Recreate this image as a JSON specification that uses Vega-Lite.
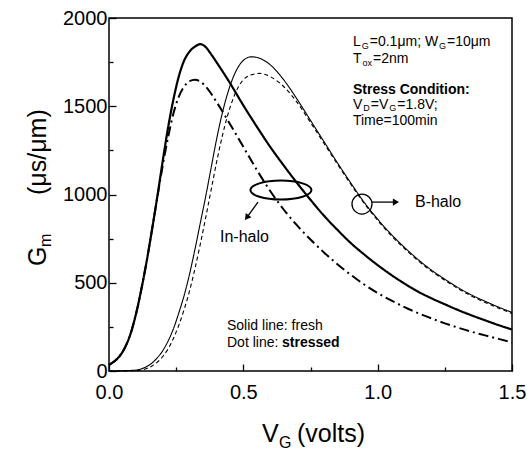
{
  "$schema": "https://vega.github.io/schema/vega-lite/v6.json",
  "width": 403,
  "height": 353,
  "autosize": {"type": "none"},
  "padding": {"left": 109, "top": 18, "right": 15, "bottom": 81},
  "background": "white",
  "config": {
    "font": "Liberation Sans",
    "view": {"stroke": "black", "strokeWidth": 1.5},
    "axis": {"grid": false, "domain": false, "labelColor": "black", "tickColor": "black", "tickWidth": 1.3, "labelFontSize": 20, "labelFont": "Liberation Sans", "title": null, "labelOverlap": false, "labelFlush": false}
  },
  "datasets": {
    "curves": [
      {"s":"in_fresh","v":0,"g":35},{"s":"in_fresh","v":0.02,"g":55},{"s":"in_fresh","v":0.04,"g":85},{"s":"in_fresh","v":0.06,"g":135},{"s":"in_fresh","v":0.08,"g":210},{"s":"in_fresh","v":0.1,"g":320},{"s":"in_fresh","v":0.12,"g":460},{"s":"in_fresh","v":0.14,"g":620},{"s":"in_fresh","v":0.16,"g":800},{"s":"in_fresh","v":0.18,"g":990},{"s":"in_fresh","v":0.2,"g":1190},{"s":"in_fresh","v":0.22,"g":1380},{"s":"in_fresh","v":0.24,"g":1540},{"s":"in_fresh","v":0.26,"g":1670},{"s":"in_fresh","v":0.28,"g":1760},{"s":"in_fresh","v":0.3,"g":1810},{"s":"in_fresh","v":0.32,"g":1838},{"s":"in_fresh","v":0.34,"g":1852},{"s":"in_fresh","v":0.36,"g":1835},{"s":"in_fresh","v":0.38,"g":1795},{"s":"in_fresh","v":0.4,"g":1750},{"s":"in_fresh","v":0.45,"g":1632},{"s":"in_fresh","v":0.5,"g":1505},{"s":"in_fresh","v":0.55,"g":1385},{"s":"in_fresh","v":0.6,"g":1270},{"s":"in_fresh","v":0.65,"g":1165},{"s":"in_fresh","v":0.7,"g":1065},{"s":"in_fresh","v":0.75,"g":970},{"s":"in_fresh","v":0.8,"g":880},{"s":"in_fresh","v":0.85,"g":800},{"s":"in_fresh","v":0.9,"g":725},{"s":"in_fresh","v":0.95,"g":660},{"s":"in_fresh","v":1.0,"g":600},{"s":"in_fresh","v":1.05,"g":545},{"s":"in_fresh","v":1.1,"g":495},{"s":"in_fresh","v":1.15,"g":450},{"s":"in_fresh","v":1.2,"g":412},{"s":"in_fresh","v":1.25,"g":378},{"s":"in_fresh","v":1.3,"g":345},{"s":"in_fresh","v":1.35,"g":315},{"s":"in_fresh","v":1.4,"g":287},{"s":"in_fresh","v":1.45,"g":260},{"s":"in_fresh","v":1.5,"g":235},
      {"s":"in_stressed","v":0,"g":35},{"s":"in_stressed","v":0.02,"g":55},{"s":"in_stressed","v":0.04,"g":85},{"s":"in_stressed","v":0.06,"g":135},{"s":"in_stressed","v":0.08,"g":210},{"s":"in_stressed","v":0.1,"g":320},{"s":"in_stressed","v":0.12,"g":460},{"s":"in_stressed","v":0.14,"g":620},{"s":"in_stressed","v":0.16,"g":800},{"s":"in_stressed","v":0.18,"g":985},{"s":"in_stressed","v":0.2,"g":1165},{"s":"in_stressed","v":0.22,"g":1325},{"s":"in_stressed","v":0.24,"g":1460},{"s":"in_stressed","v":0.26,"g":1555},{"s":"in_stressed","v":0.28,"g":1612},{"s":"in_stressed","v":0.3,"g":1642},{"s":"in_stressed","v":0.32,"g":1650},{"s":"in_stressed","v":0.34,"g":1640},{"s":"in_stressed","v":0.36,"g":1612},{"s":"in_stressed","v":0.38,"g":1572},{"s":"in_stressed","v":0.4,"g":1525},{"s":"in_stressed","v":0.45,"g":1400},{"s":"in_stressed","v":0.5,"g":1270},{"s":"in_stressed","v":0.55,"g":1140},{"s":"in_stressed","v":0.6,"g":1020},{"s":"in_stressed","v":0.65,"g":915},{"s":"in_stressed","v":0.7,"g":825},{"s":"in_stressed","v":0.75,"g":745},{"s":"in_stressed","v":0.8,"g":672},{"s":"in_stressed","v":0.85,"g":605},{"s":"in_stressed","v":0.9,"g":545},{"s":"in_stressed","v":0.95,"g":490},{"s":"in_stressed","v":1.0,"g":442},{"s":"in_stressed","v":1.05,"g":400},{"s":"in_stressed","v":1.1,"g":362},{"s":"in_stressed","v":1.15,"g":328},{"s":"in_stressed","v":1.2,"g":298},{"s":"in_stressed","v":1.25,"g":270},{"s":"in_stressed","v":1.3,"g":245},{"s":"in_stressed","v":1.35,"g":222},{"s":"in_stressed","v":1.4,"g":202},{"s":"in_stressed","v":1.45,"g":182},{"s":"in_stressed","v":1.5,"g":163},
      {"s":"b_fresh","v":0,"g":0},{"s":"b_fresh","v":0.05,"g":1},{"s":"b_fresh","v":0.08,"g":3},{"s":"b_fresh","v":0.1,"g":5},{"s":"b_fresh","v":0.12,"g":12},{"s":"b_fresh","v":0.14,"g":25},{"s":"b_fresh","v":0.16,"g":45},{"s":"b_fresh","v":0.18,"g":75},{"s":"b_fresh","v":0.2,"g":115},{"s":"b_fresh","v":0.22,"g":170},{"s":"b_fresh","v":0.24,"g":240},{"s":"b_fresh","v":0.26,"g":330},{"s":"b_fresh","v":0.28,"g":430},{"s":"b_fresh","v":0.3,"g":550},{"s":"b_fresh","v":0.32,"g":690},{"s":"b_fresh","v":0.34,"g":840},{"s":"b_fresh","v":0.36,"g":990},{"s":"b_fresh","v":0.38,"g":1150},{"s":"b_fresh","v":0.4,"g":1310},{"s":"b_fresh","v":0.42,"g":1450},{"s":"b_fresh","v":0.44,"g":1565},{"s":"b_fresh","v":0.46,"g":1655},{"s":"b_fresh","v":0.48,"g":1720},{"s":"b_fresh","v":0.5,"g":1760},{"s":"b_fresh","v":0.53,"g":1780},{"s":"b_fresh","v":0.56,"g":1772},{"s":"b_fresh","v":0.6,"g":1735},{"s":"b_fresh","v":0.65,"g":1650},{"s":"b_fresh","v":0.7,"g":1540},{"s":"b_fresh","v":0.75,"g":1420},{"s":"b_fresh","v":0.8,"g":1300},{"s":"b_fresh","v":0.85,"g":1180},{"s":"b_fresh","v":0.9,"g":1065},{"s":"b_fresh","v":0.95,"g":955},{"s":"b_fresh","v":1.0,"g":860},{"s":"b_fresh","v":1.05,"g":775},{"s":"b_fresh","v":1.1,"g":700},{"s":"b_fresh","v":1.15,"g":632},{"s":"b_fresh","v":1.2,"g":572},{"s":"b_fresh","v":1.25,"g":520},{"s":"b_fresh","v":1.3,"g":472},{"s":"b_fresh","v":1.35,"g":430},{"s":"b_fresh","v":1.4,"g":395},{"s":"b_fresh","v":1.45,"g":362},{"s":"b_fresh","v":1.5,"g":332},
      {"s":"b_stressed","v":0,"g":0},{"s":"b_stressed","v":0.1,"g":2},{"s":"b_stressed","v":0.12,"g":6},{"s":"b_stressed","v":0.14,"g":14},{"s":"b_stressed","v":0.16,"g":28},{"s":"b_stressed","v":0.18,"g":50},{"s":"b_stressed","v":0.2,"g":82},{"s":"b_stressed","v":0.22,"g":125},{"s":"b_stressed","v":0.24,"g":185},{"s":"b_stressed","v":0.26,"g":260},{"s":"b_stressed","v":0.28,"g":350},{"s":"b_stressed","v":0.3,"g":455},{"s":"b_stressed","v":0.32,"g":580},{"s":"b_stressed","v":0.34,"g":720},{"s":"b_stressed","v":0.36,"g":870},{"s":"b_stressed","v":0.38,"g":1025},{"s":"b_stressed","v":0.4,"g":1180},{"s":"b_stressed","v":0.42,"g":1320},{"s":"b_stressed","v":0.44,"g":1440},{"s":"b_stressed","v":0.46,"g":1535},{"s":"b_stressed","v":0.48,"g":1605},{"s":"b_stressed","v":0.5,"g":1650},{"s":"b_stressed","v":0.53,"g":1678},{"s":"b_stressed","v":0.56,"g":1686},{"s":"b_stressed","v":0.6,"g":1668},{"s":"b_stressed","v":0.65,"g":1612},{"s":"b_stressed","v":0.7,"g":1522},{"s":"b_stressed","v":0.75,"g":1408},{"s":"b_stressed","v":0.8,"g":1290},{"s":"b_stressed","v":0.85,"g":1172},{"s":"b_stressed","v":0.9,"g":1058},{"s":"b_stressed","v":0.95,"g":950},{"s":"b_stressed","v":1.0,"g":853},{"s":"b_stressed","v":1.05,"g":768},{"s":"b_stressed","v":1.1,"g":693},{"s":"b_stressed","v":1.15,"g":625},{"s":"b_stressed","v":1.2,"g":566},{"s":"b_stressed","v":1.25,"g":514},{"s":"b_stressed","v":1.3,"g":466},{"s":"b_stressed","v":1.35,"g":424},{"s":"b_stressed","v":1.4,"g":388},{"s":"b_stressed","v":1.45,"g":356},{"s":"b_stressed","v":1.5,"g":326}
    ],
    "labels": [
      {"k":"n","t":"L","v":0.9081,"g":1841},
      {"k":"s","t":"G","v":0.9408,"g":1826},
      {"k":"n","t":"=0.1μm; W","v":0.9706,"g":1841},
      {"k":"s","t":"G","v":1.2281,"g":1826},
      {"k":"n","t":"=10μm","v":1.2579,"g":1841},
      {"k":"n","t":"T","v":0.9081,"g":1745},
      {"k":"s","t":"ox","v":0.9438,"g":1730},
      {"k":"n","t":"=2nm","v":0.9825,"g":1745},
      {"k":"b","t":"Stress Condition:","v":0.9081,"g":1569},
      {"k":"n","t":"V","v":0.9081,"g":1484},
      {"k":"s","t":"D","v":0.9464,"g":1472},
      {"k":"n","t":"=V","v":0.9743,"g":1484},
      {"k":"s","t":"G","v":1.0432,"g":1472},
      {"k":"n","t":"=1.8V;","v":1.073,"g":1484},
      {"k":"n","t":"Time=100min","v":0.9081,"g":1394},
      {"k":"h","t":"In-halo","v":0.4131,"g":731},
      {"k":"h","t":"B-halo","v":1.1388,"g":929},
      {"k":"n","t":"Solid line: fresh","v":0.4392,"g":232},
      {"k":"n","t":"Dot line: ","v":0.4392,"g":136},
      {"k":"b","t":"stressed","v":0.6439,"g":136},
      {"k":"t","t":"V","v":0.5694,"g":-402},
      {"k":"ts","t":"G","v":0.6327,"g":-436},
      {"k":"t","t":"(volts)","v":0.6997,"g":-402},
      {"k":"yt","t":"G","v":-0.2345,"g":595},
      {"k":"yts","t":"m","v":-0.2159,"g":703},
      {"k":"yt","t":"(μs/μm)","v":-0.2345,"g":997}
    ]
  },
  "encoding": {
    "x": {"field": "v", "type": "quantitative", "scale": {"domain": [0, 1.5], "nice": false, "zero": false},
      "axis": {"values": [0, 0.25, 0.5, 0.75, 1, 1.25, 1.5], "labelExpr": "(datum.value*2)%1===0 ? format(datum.value,'.1f') : ''", "tickSize": {"condition": {"test": "(datum.value*2)%1===0", "value": -7}, "value": -4}, "labelPadding": 18}},
    "y": {"field": "g", "type": "quantitative", "scale": {"domain": [0, 2000], "nice": false, "zero": false},
      "axis": {"values": [0, 250, 500, 750, 1000, 1250, 1500, 1750, 2000], "labelExpr": "datum.value%500===0 ? format(datum.value,'d') : ''", "tickSize": {"condition": {"test": "datum.value%500===0", "value": -7}, "value": -4}, "labelPadding": 9}}
  },
  "layer": [
    {
      "data": {"name": "curves"},
      "mark": {"type": "line", "interpolate": "monotone", "color": "black"},
      "encoding": {
        "detail": {"field": "s"},
        "strokeDash": {"field": "s", "type": "nominal", "scale": {"domain": ["in_fresh", "in_stressed", "b_fresh", "b_stressed"], "range": [[1, 0], [10, 4, 2, 4], [1, 0], [4, 3]]}, "legend": null},
        "strokeWidth": {"field": "s", "type": "nominal", "scale": {"type": "ordinal", "domain": ["in_fresh", "in_stressed", "b_fresh", "b_stressed"], "range": [2.2, 2.0, 1.1, 1.1]}, "legend": null}
      }
    },
    {
      "data": {"values": [{"v": 0.64, "g": 1025}]},
      "mark": {"type": "point", "shape": "M -1 0 A 1 0.311 0 1 0 1 0 A 1 0.311 0 1 0 -1 0 Z", "size": 3721, "filled": false, "stroke": "black", "strokeWidth": 2, "opacity": 1}
    },
    {
      "data": {"values": [{"v": 0.9416, "g": 946}]},
      "mark": {"type": "point", "shape": "circle", "size": 400, "filled": false, "stroke": "black", "strokeWidth": 1.3, "opacity": 1}
    },
    {
      "data": {"values": [{"v": 0.5545, "g": 957, "v2": 0.5128, "g2": 869}, {"v": 0.9788, "g": 957, "v2": 1.0644, "g2": 957}]},
      "mark": {"type": "rule", "color": "black", "strokeWidth": 1.3},
      "encoding": {"x2": {"field": "v2"}, "y2": {"field": "g2"}}
    },
    {
      "data": {"values": [{"v": 0.5128, "g": 869}]},
      "mark": {"type": "point", "shape": "triangle-up", "angle": 216, "size": 50, "filled": true, "color": "black", "opacity": 1}
    },
    {
      "data": {"values": [{"v": 1.0681, "g": 957}]},
      "mark": {"type": "point", "shape": "triangle-up", "angle": 90, "size": 50, "filled": true, "color": "black", "opacity": 1}
    },
    {
      "data": {"name": "labels"},
      "transform": [{"filter": "datum.k==='n'"}],
      "mark": {"type": "text", "align": "left", "baseline": "alphabetic", "fontSize": 14, "color": "black"},
      "encoding": {"text": {"field": "t"}}
    },
    {
      "data": {"name": "labels"},
      "transform": [{"filter": "datum.k==='s'"}],
      "mark": {"type": "text", "align": "left", "baseline": "alphabetic", "fontSize": 9, "color": "black"},
      "encoding": {"text": {"field": "t"}}
    },
    {
      "data": {"name": "labels"},
      "transform": [{"filter": "datum.k==='b'"}],
      "mark": {"type": "text", "align": "left", "baseline": "alphabetic", "fontSize": 14, "fontWeight": "bold", "color": "black"},
      "encoding": {"text": {"field": "t"}}
    },
    {
      "data": {"name": "labels"},
      "transform": [{"filter": "datum.k==='h'"}],
      "mark": {"type": "text", "align": "left", "baseline": "alphabetic", "fontSize": 16, "color": "black"},
      "encoding": {"text": {"field": "t"}}
    },
    {
      "data": {"name": "labels"},
      "transform": [{"filter": "datum.k==='t'"}],
      "mark": {"type": "text", "align": "left", "baseline": "alphabetic", "fontSize": 25, "color": "black"},
      "encoding": {"text": {"field": "t"}}
    },
    {
      "data": {"name": "labels"},
      "transform": [{"filter": "datum.k==='ts'"}],
      "mark": {"type": "text", "align": "left", "baseline": "alphabetic", "fontSize": 16, "color": "black"},
      "encoding": {"text": {"field": "t"}}
    },
    {
      "data": {"name": "labels"},
      "transform": [{"filter": "datum.k==='yt'"}],
      "mark": {"type": "text", "align": "left", "baseline": "alphabetic", "fontSize": 25, "angle": 270, "color": "black"},
      "encoding": {"text": {"field": "t"}}
    },
    {
      "data": {"name": "labels"},
      "transform": [{"filter": "datum.k==='yts'"}],
      "mark": {"type": "text", "align": "left", "baseline": "alphabetic", "fontSize": 16, "angle": 270, "color": "black"},
      "encoding": {"text": {"field": "t"}}
    }
  ]
}
